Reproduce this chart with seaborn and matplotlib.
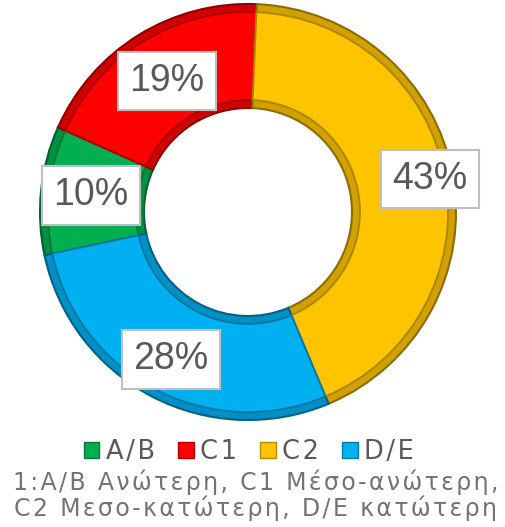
import matplotlib
matplotlib.use("Agg")
import matplotlib.pyplot as plt
import matplotlib.colors as mcolors
from matplotlib.patches import Patch
import numpy as np
import seaborn as sns

# data
categories = ["A/B", "C1", "C2", "D/E"]
shares = [10, 19, 43, 28]
colors = ["#00B050", "#FF0000", "#FFC400", "#00B0F0"]
note_lines = ["1:A/B Ανώτερη, C1 Μέσο-ανώτερη,",
              "C2 Μεσο-κατώτερη, D/E κατώτερη"]

sns.set_theme(style="white")
plt.rcParams["font.family"] = ["DejaVu Sans"]


def shade(c, f):
    r, g, b = mcolors.to_rgb(c)
    return (r * f, g * f, b * f)


def spaced(s):
    # the reference text is letter-spaced
    return "\u200a".join(s)


fig = plt.figure(figsize=(5.06, 5.27), dpi=100)
ax = fig.add_axes([40 / 506, 107 / 527, 416 / 506, 416 / 527])

start = 192
# outer bevel ring
wedges, _ = ax.pie(shares, colors=[shade(c, 0.82) for c in colors], startangle=start,
                   counterclock=False, radius=1.0,
                   wedgeprops=dict(width=0.5, linewidth=0))
for w, c in zip(wedges, colors):
    w.set_edgecolor(shade(c, 0.55))
    w.set_linewidth(1.5)
# flat top face
top, _ = ax.pie(shares, colors=colors, startangle=start, counterclock=False,
                radius=0.962, wedgeprops=dict(width=0.424, linewidth=0))
for w, c in zip(top, colors):
    w.set_edgecolor(shade(c, 0.68))
    w.set_linewidth(1.4)

# labels
label_r = [0.76, 0.74, 0.89, 0.80]
for w, v, r in zip(wedges, shares, label_r):
    ang = np.deg2rad((w.theta1 + w.theta2) / 2)
    ax.text(r * np.cos(ang), r * np.sin(ang), f"{v}%", ha="center", va="center",
            fontsize=27, color="#595959",
            family=["Liberation Sans Narrow", "Liberation Sans", "DejaVu Sans"],
            bbox=dict(boxstyle="square,pad=0.3", facecolor="white",
                      edgecolor="#BFBFBF", linewidth=1.5))

ax.set_xlim(-1, 1)
ax.set_ylim(-1, 1)
ax.set_aspect("auto")
ax.axis("off")

handles = [Patch(facecolor=c, edgecolor=shade(c, 0.7), linewidth=1) for c in colors]
fig.legend(handles, [spaced(c) for c in categories], loc="center",
           bbox_to_anchor=(0.492, 0.142), ncol=4,
           frameon=False, fontsize=18.5, handlelength=0.6, handleheight=0.6,
           handletextpad=0.25, columnspacing=0.9, labelcolor="#595959")

fig.text(0.505, 0.085, spaced(note_lines[0]), ha="center", va="center", fontsize=17,
         color="#737373")
fig.text(0.505, 0.036, spaced(note_lines[1]), ha="center", va="center", fontsize=17,
         color="#737373")

fig.savefig("out.png", dpi=100)
